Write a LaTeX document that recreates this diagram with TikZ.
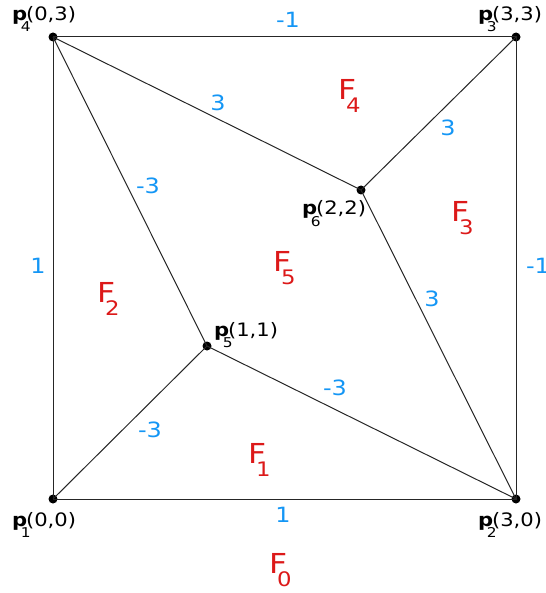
\documentclass[tikz,border=0pt]{standalone}
\usepackage{fontspec}
\setmainfont{DejaVu Sans}[FakeStretch=1.14]
\definecolor{lblue}{RGB}{20,150,245}
\definecolor{fred}{RGB}{220,25,25}
\newcommand\Fc[1]{F\kern-10pt\raisebox{-13pt}{\fontsize{20}{20}\selectfont #1}}
\newcommand\Pl[2]{\textbf{p}\kern-6.5pt\raisebox{-11pt}{\fontsize{13.5}{13.5}\selectfont #1}\kern-4.5pt(#2)}
\begin{document}
\begin{tikzpicture}[x=1pt,y=-1pt,
  edge/.style={draw=black!85, line width=1pt},
  dot/.style={circle, fill=black, inner sep=0pt, minimum size=9pt},
  elab/.style={text=lblue, font=\fontsize{21}{21}\selectfont, inner sep=0pt},
  face/.style={text=fred, font=\fontsize{27.5}{27.5}\selectfont, inner sep=0pt, anchor=base west},
  plab/.style={font=\fontsize{18.5}{18.5}\selectfont, inner sep=0pt, anchor=base west}]
\useasboundingbox (0,0) rectangle (545,593);
\node[dot] (p1) at (53,499) {};
\node[dot] (p2) at (516,499) {};
\node[dot] (p3) at (516,37) {};
\node[dot] (p4) at (53,37) {};
\node[dot] (p5) at (207,346) {};
\node[dot] (p6) at (361,190) {};
\draw[edge] (p1.center) -- (p2.center) -- (p3.center) -- (p4.center) -- (p1.center);
\draw[edge] (p4.center) -- (p5.center);
\draw[edge] (p4.center) -- (p6.center);
\draw[edge] (p3.center) -- (p6.center);
\draw[edge] (p6.center) -- (p2.center);
\draw[edge] (p5.center) -- (p2.center);
\draw[edge] (p5.center) -- (p1.center);
% point labels
\node[plab] (l4) at (12,21) {\Pl{4}{0,3}};
\node[plab] (l3) at (478,21) {\Pl{3}{3,3}};
\node[plab] (l6) at (302,215) {\Pl{6}{2,2}};
\node[plab] (l5) at (214,336) {\Pl{5}{1,1}};
\node[plab] (l1) at (12,526) {\Pl{1}{0,0}};
\node[plab] (l2) at (478,526) {\Pl{2}{3,0}};
% edge labels
\node[elab] (e43) at (288,20) {-1};
\node[elab] (e46) at (218,103) {3};
\node[elab] (e36) at (448,128) {3};
\node[elab] (e45) at (148,186) {-3};
\node[elab] (e41) at (38,266) {1};
\node[elab] (e32) at (538,266) {-1};
\node[elab] (e62) at (432,299) {3};
\node[elab] (e52) at (335,388) {-3};
\node[elab] (e51) at (150,430) {-3};
\node[elab] (e12) at (283,515) {1};
% faces
\node[face] (F4) at (338,100) {\Fc{4}};
\node[face] (F3) at (451,222) {\Fc{3}};
\node[face] (F5) at (273,271) {\Fc{5}};
\node[face] (F2) at (97,302) {\Fc{2}};
\node[face] (F1) at (248,463) {\Fc{1}};
\node[face] (F0) at (269,573) {\Fc{0}};
\end{tikzpicture}
\end{document}
